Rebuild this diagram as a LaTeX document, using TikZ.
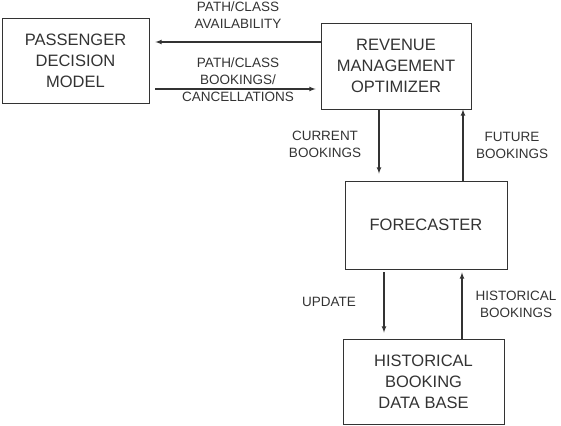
\documentclass[tikz,border=0pt]{standalone}
\usepackage{fontspec}
\setmainfont{Liberation Sans}
\definecolor{ink}{HTML}{333333}
\tikzset{
  block/.style={draw=ink, line width=0.9pt, text=ink, align=center,
    font=\fontsize{16.5}{21}\selectfont, inner sep=0pt},
  flowlabel/.style={text=ink, align=center, font=\fontsize{13.5}{17}\selectfont, inner sep=0pt},
  flow/.style={->, >=latex, draw=ink, line width=1.1pt}
}
\begin{document}
\begin{tikzpicture}[x=1pt,y=-1pt]
\useasboundingbox (0,0) rectangle (561,425);
% boxes
\node[block, minimum width=147pt, minimum height=85pt] (pdm) at (75.5,60.5) {PASSENGER\\DECISION\\MODEL};
\node[block, minimum width=150pt, minimum height=86pt] (rmo) at (396,66) {REVENUE\\MANAGEMENT\\OPTIMIZER};
\node[block, minimum width=162pt, minimum height=88pt] (fc) at (426,225) {FORECASTER};
\node[block, minimum width=161pt, minimum height=85pt] (hbd) at (423.5,381.5) {HISTORICAL\\BOOKING\\DATA BASE};
% labels
\node[flowlabel] (avail) at (238,15) {PATH/CLASS\\AVAILABILITY};
\node[flowlabel] (book) at (238,80) {PATH/CLASS\\BOOKINGS/\\CANCELLATIONS};
\node[flowlabel] (curr) at (325,144) {CURRENT\\BOOKINGS};
\node[flowlabel] (fut) at (512,145) {FUTURE\\BOOKINGS};
\node[flowlabel] (upd) at (329,302) {UPDATE};
\node[flowlabel] (hist) at (516,304) {HISTORICAL\\BOOKINGS};
% connectors
\path ([yshift=24pt]rmo.west) coordinate (a1);
\draw[flow, shorten >=6pt] (a1) -- (a1 -| pdm.east);
\path ([yshift=-28.5pt]pdm.east) coordinate (a2);
\draw[flow, shorten <=6pt, shorten >=5pt] (a2) -- (a2 -| rmo.west);
\path ([xshift=-17pt]rmo.south) coordinate (a3);
\draw[flow, shorten >=7pt] (a3) -- (a3 |- fc.north);
\path ([xshift=37pt]fc.north) coordinate (a4);
\draw[flow] (a4) -- (a4 |- rmo.south);
\path ([xshift=-42pt]fc.south) coordinate (a5);
\draw[flow, shorten <=3pt, shorten >=6pt] (a5) -- (a5 |- hbd.north);
\path ([xshift=38.5pt]hbd.north) coordinate (a6);
\draw[flow, shorten >=3pt] (a6) -- (a6 |- fc.south);
\end{tikzpicture}
\end{document}
